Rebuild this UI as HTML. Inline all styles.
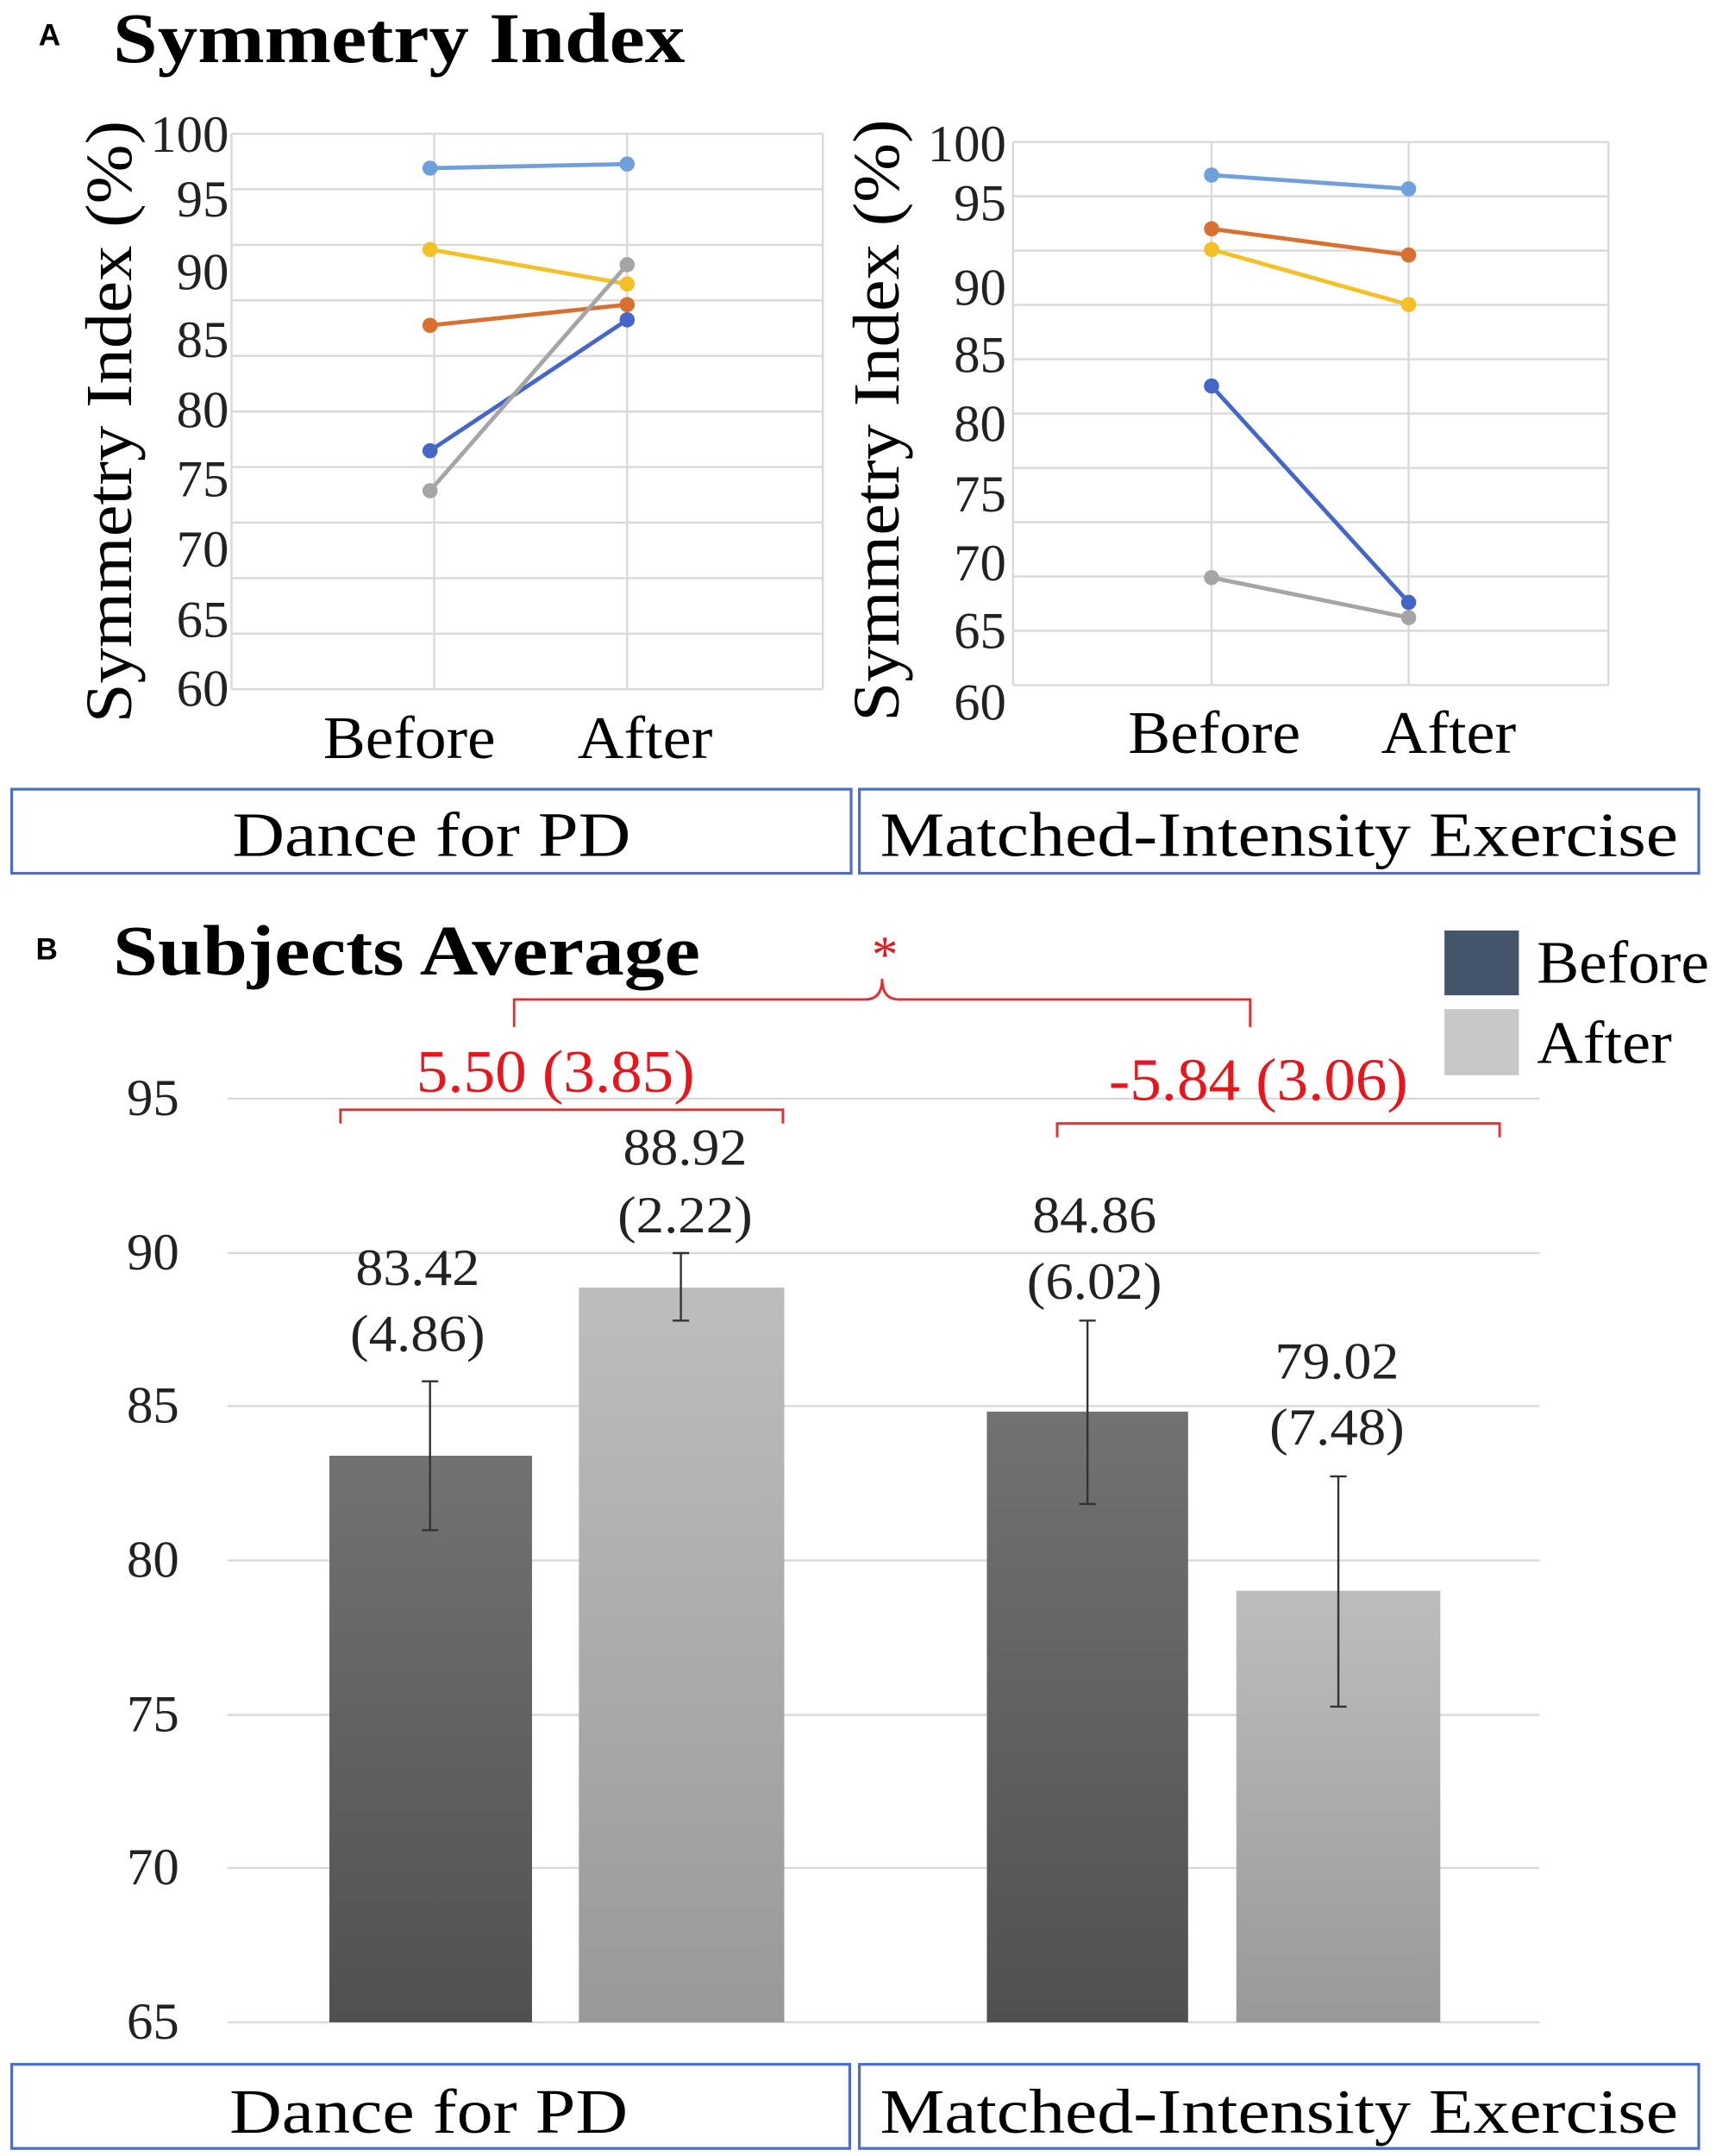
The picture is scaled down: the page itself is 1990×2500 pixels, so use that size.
<!DOCTYPE html>
<html><head><meta charset="utf-8"><style>html,body{margin:0;padding:0;background:#fff}svg{display:block}</style></head>
<body>
<svg width="1990" height="2500" viewBox="0 0 1245 1564" preserveAspectRatio="none" xmlns="http://www.w3.org/2000/svg" font-family="Liberation Serif, serif">
<defs>
<linearGradient id="dk" x1="0" y1="0" x2="0" y2="1"><stop offset="0" stop-color="#727272"/><stop offset="1" stop-color="#505050"/></linearGradient>
<linearGradient id="lt" x1="0" y1="0" x2="0" y2="1"><stop offset="0" stop-color="#bdbdbd"/><stop offset="1" stop-color="#999"/></linearGradient>
</defs>
<text x="28" y="33" font-family="Liberation Sans, sans-serif" font-weight="bold" font-size="22">A</text>
<text x="82" y="45" font-weight="bold" font-size="52" textLength="415" lengthAdjust="spacingAndGlyphs">Symmetry Index</text>
<!-- left chart -->
<g stroke="#d9d9d9" stroke-width="1.5" fill="none">
<path d="M168 97H597M168 137.3H597M168 177.6H597M168 217.9H597M168 258.2H597M168 298.5H597M168 338.8H597M168 379.1H597M168 419.4H597M168 459.7H597M168 500H597"/>
<path d="M168 97V500M315 97V500M455 97V500M597 97V500"/>
</g>
<g font-size="38" text-anchor="end" fill="#222">
<text x="166" y="110">100</text><text x="166" y="157">95</text><text x="166" y="210">90</text><text x="166" y="259">85</text><text x="166" y="310">80</text><text x="166" y="360">75</text><text x="166" y="411">70</text><text x="166" y="462">65</text><text x="166" y="512">60</text>
</g>
<text transform="translate(95,306) rotate(-90)" text-anchor="middle" font-size="48" textLength="437" lengthAdjust="spacingAndGlyphs">Symmetry Index (%)</text>
<g stroke-width="3" fill="none">
<path d="M312 122L455 119" stroke="#6fa0dc"/><path d="M312 181L455 206" stroke="#f5bf26"/><path d="M312 236L455 221" stroke="#d8702f"/><path d="M312 327L455 232" stroke="#4466c8"/><path d="M312 356L455 192" stroke="#a5a5a5"/>
</g>
<g>
<circle cx="312" cy="122" r="5.5" fill="#6fa0dc"/><circle cx="455" cy="119" r="5.5" fill="#6fa0dc"/>
<circle cx="312" cy="181" r="5.5" fill="#f5bf26"/><circle cx="455" cy="206" r="5.5" fill="#f5bf26"/>
<circle cx="312" cy="236" r="5.5" fill="#d8702f"/><circle cx="455" cy="221" r="5.5" fill="#d8702f"/>
<circle cx="312" cy="327" r="5.5" fill="#4466c8"/><circle cx="455" cy="232" r="5.5" fill="#4466c8"/>
<circle cx="312" cy="356" r="5.5" fill="#a5a5a5"/><circle cx="455" cy="192" r="5.5" fill="#a5a5a5"/>
</g>
<text x="297" y="550" text-anchor="middle" font-size="44" textLength="125" lengthAdjust="spacingAndGlyphs">Before</text>
<text x="468" y="550" text-anchor="middle" font-size="44" textLength="98" lengthAdjust="spacingAndGlyphs">After</text>
<!-- right chart -->
<g stroke="#d9d9d9" stroke-width="1.5" fill="none">
<path d="M735 103H1167M735 142.4H1167M735 181.8H1167M735 221.2H1167M735 260.6H1167M735 300H1167M735 339.4H1167M735 378.8H1167M735 418.2H1167M735 457.6H1167M735 497H1167"/>
<path d="M735 103V497M879 103V497M1022 103V497M1167 103V497"/>
</g>
<g font-size="38" text-anchor="end" fill="#222">
<text x="730" y="117">100</text><text x="730" y="160">95</text><text x="730" y="221">90</text><text x="730" y="270">85</text><text x="730" y="320">80</text><text x="730" y="371">75</text><text x="730" y="421">70</text><text x="730" y="470">65</text><text x="730" y="522">60</text>
</g>
<text transform="translate(652,305) rotate(-90)" text-anchor="middle" font-size="48" textLength="437" lengthAdjust="spacingAndGlyphs">Symmetry Index (%)</text>
<g stroke-width="3" fill="none">
<path d="M879 127L1022 137" stroke="#6fa0dc"/><path d="M879 166L1022 185" stroke="#d8702f"/><path d="M879 181L1022 221" stroke="#f5bf26"/><path d="M879 280L1022 437" stroke="#4466c8"/><path d="M879 419L1022 448" stroke="#a5a5a5"/>
</g>
<g>
<circle cx="879" cy="127" r="5.5" fill="#6fa0dc"/><circle cx="1022" cy="137" r="5.5" fill="#6fa0dc"/>
<circle cx="879" cy="166" r="5.5" fill="#d8702f"/><circle cx="1022" cy="185" r="5.5" fill="#d8702f"/>
<circle cx="879" cy="181" r="5.5" fill="#f5bf26"/><circle cx="1022" cy="221" r="5.5" fill="#f5bf26"/>
<circle cx="879" cy="280" r="5.5" fill="#4466c8"/><circle cx="1022" cy="437" r="5.5" fill="#4466c8"/>
<circle cx="879" cy="419" r="5.5" fill="#a5a5a5"/><circle cx="1022" cy="448" r="5.5" fill="#a5a5a5"/>
</g>
<text x="881" y="546" text-anchor="middle" font-size="44" textLength="125" lengthAdjust="spacingAndGlyphs">Before</text>
<text x="1051" y="546" text-anchor="middle" font-size="44" textLength="98" lengthAdjust="spacingAndGlyphs">After</text>
<!-- boxes A -->
<rect x="8.5" y="572.5" width="609" height="61" fill="none" stroke="#4a6fc8" stroke-width="2"/>
<rect x="623.5" y="572.5" width="609" height="61" fill="none" stroke="#4a6fc8" stroke-width="2"/>
<text x="313" y="621" text-anchor="middle" font-size="46" textLength="289" lengthAdjust="spacingAndGlyphs">Dance for PD</text>
<text x="928" y="621" text-anchor="middle" font-size="46" textLength="579" lengthAdjust="spacingAndGlyphs">Matched-Intensity Exercise</text>
<!-- Panel B -->
<text x="26" y="696" font-family="Liberation Sans, sans-serif" font-weight="bold" font-size="22">B</text>
<text x="82" y="707" font-weight="bold" font-size="52" textLength="426" lengthAdjust="spacingAndGlyphs">Subjects Average</text>
<g stroke="#d9d9d9" stroke-width="1.5">
<path d="M165 797H1117M165 909H1117M165 1020H1117M165 1132H1117M165 1244H1117M165 1355H1117M165 1467H1117"/>
</g>
<g font-size="38" text-anchor="end" fill="#222">
<text x="130" y="809">95</text><text x="130" y="921">90</text><text x="130" y="1032">85</text><text x="130" y="1144">80</text><text x="130" y="1256">75</text><text x="130" y="1367">70</text><text x="130" y="1479">65</text>
</g>
<rect x="239" y="1056" width="147" height="411" fill="url(#dk)"/>
<rect x="420" y="934" width="149" height="533" fill="url(#lt)"/>
<rect x="716" y="1024" width="146" height="443" fill="url(#dk)"/>
<rect x="897" y="1154" width="148" height="313" fill="url(#lt)"/>
<g stroke="#333" stroke-width="1.5">
<path d="M312 1002V1110M306 1002H318M306 1110H318"/>
<path d="M494 909V958M488 909H500M488 958H500"/>
<path d="M789 958V1091M783 958H795M783 1091H795"/>
<path d="M971 1071V1238M965 1071H977M965 1238H977"/>
</g>
<g font-size="38" text-anchor="middle" fill="#222">
<text x="303" y="932" textLength="90" lengthAdjust="spacingAndGlyphs">83.42</text><text x="303" y="980" textLength="98" lengthAdjust="spacingAndGlyphs">(4.86)</text>
<text x="497" y="845" textLength="90" lengthAdjust="spacingAndGlyphs">88.92</text><text x="497" y="894" textLength="98" lengthAdjust="spacingAndGlyphs">(2.22)</text>
<text x="794" y="894" textLength="90" lengthAdjust="spacingAndGlyphs">84.86</text><text x="794" y="942" textLength="98" lengthAdjust="spacingAndGlyphs">(6.02)</text>
<text x="970" y="1000" textLength="90" lengthAdjust="spacingAndGlyphs">79.02</text><text x="970" y="1048" textLength="98" lengthAdjust="spacingAndGlyphs">(7.48)</text>
</g>
<g stroke="#e03030" stroke-width="1.8" fill="none">
<path d="M247 815V805H568V815"/>
<path d="M767 825V815H1088V825"/>
<path d="M373 745V725H628Q640 725 640 710Q640 725 652 725H907V745"/>
</g>
<g fill="#e8161c" text-anchor="middle">
<text x="403" y="792" font-size="44" textLength="202" lengthAdjust="spacingAndGlyphs">5.50 (3.85)</text>
<text x="913" y="798" font-size="44" textLength="217" lengthAdjust="spacingAndGlyphs">-5.84 (3.06)</text>
<text x="642" y="705" font-size="38">*</text>
</g>
<rect x="1048" y="675" width="54" height="47" fill="#44546a"/>
<rect x="1048" y="732" width="54" height="48" fill="#c8c8c8"/>
<text x="1115" y="713" font-size="44" textLength="125" lengthAdjust="spacingAndGlyphs">Before</text>
<text x="1115" y="771" font-size="44" textLength="98" lengthAdjust="spacingAndGlyphs">After</text>
<rect x="8.5" y="1497.5" width="608" height="61" fill="none" stroke="#4a6fc8" stroke-width="2"/>
<rect x="623.5" y="1497.5" width="609" height="61" fill="none" stroke="#4a6fc8" stroke-width="2"/>
<text x="311" y="1547" text-anchor="middle" font-size="46" textLength="289" lengthAdjust="spacingAndGlyphs">Dance for PD</text>
<text x="928" y="1547" text-anchor="middle" font-size="46" textLength="579" lengthAdjust="spacingAndGlyphs">Matched-Intensity Exercise</text>
</svg>
</body></html>
